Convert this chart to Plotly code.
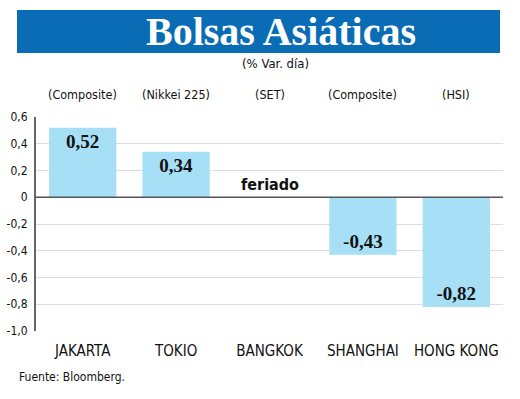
import plotly.graph_objects as go

categories = ["JAKARTA", "TOKIO", "BANGKOK", "SHANGHAI", "HONG KONG"]
indices = ["(Composite)", "(Nikkei 225)", "(SET)", "(Composite)", "(HSI)"]
values = [0.52, 0.34, None, -0.43, -0.82]
tick_vals = [0.6, 0.4, 0.2, 0.0, -0.2, -0.4, -0.6, -0.8, -1.0]
tick_text = ["0,6", "0,4", "0,2", "0", "-0,2", "-0,4", "-0,6", "-0,8", "-1,0"]
holiday_label = "feriado"
title = "Bolsas Asiáticas"
subtitle = "(% Var. día)"
source = "Fuente: Bloomberg."

NARROW = "DejaVu Sans Condensed, Liberation Sans Narrow, sans-serif"
SERIF = "Liberation Serif, DejaVu Serif, serif"

labels = ["" if v is None else f"{v:.2f}".replace(".", ",") for v in values]

fig = go.Figure(go.Bar(
    x=categories, y=values, text=labels,
    textposition="inside", insidetextanchor="end",
    textfont=dict(family=SERIF, size=19, color="#111111", weight="bold"),
    marker=dict(color="#a6dff6", line=dict(width=0)),
    width=0.72, cliponaxis=False, textangle=0,
))

L, R, T, B = 36, 17, 117, 68
W, H = 520, 399
pw, ph = W - L - R, H - T - B

def px(x):
    return (x - L) / pw

def py(y):
    return (H - B - y) / ph

shapes = [
    dict(type="rect", xref="paper", yref="paper", x0=px(17), x1=px(500), y0=py(53), y1=py(10),
         fillcolor="#0b6cb6", line=dict(width=0), layer="below"),
    dict(type="line", xref="paper", yref="y", x0=0, x1=1, y0=0, y1=0,
         line=dict(color="#555555", width=1.5)),
]

annotations = [
    dict(text=f"<b>{title}</b>", xref="paper", yref="paper", x=px(281), y=py(32),
         showarrow=False, font=dict(family=SERIF, size=40, color="white"),
         xanchor="center", yanchor="middle"),
    dict(text=subtitle, xref="paper", yref="paper", x=px(275), y=py(63),
         showarrow=False, font=dict(family=NARROW, size=13, color="#111111"),
         xanchor="center", yanchor="middle"),
    dict(text=source, xref="paper", yref="paper", x=px(17), y=py(377),
         showarrow=False, font=dict(family=NARROW, size=12, color="#111111"),
         xanchor="left", yanchor="middle"),
    dict(text=f"<b>{holiday_label}</b>", x=categories[2], y=0, yshift=1, showarrow=False,
         font=dict(family=NARROW, size=16, color="#111111"), xanchor="center", yanchor="bottom"),
]
for c, s in zip(categories, indices):
    annotations.append(dict(text=s, x=c, xref="x", yref="paper", y=py(94), showarrow=False,
                            font=dict(family=NARROW, size=12.5, color="#111111"),
                            xanchor="center", yanchor="middle"))

fig.update_layout(
    width=W, height=H,
    margin=dict(l=L, r=R, t=T, b=B, pad=0),
    paper_bgcolor="white", plot_bgcolor="white",
    showlegend=False,
    shapes=shapes, annotations=annotations,
    xaxis=dict(showgrid=False, showline=False, ticks="", automargin=False,
               tickfont=dict(family=NARROW, size=15, color="#111111"),
               ticklabelstandoff=9),
    yaxis=dict(range=[-1.0, 0.6], tickvals=tick_vals, ticktext=tick_text, automargin=False,
               showgrid=True, gridcolor="#dddddd", gridwidth=1,
               zeroline=False, showline=True, linecolor="#666666", linewidth=2,
               ticks="", tickfont=dict(family=NARROW, size=12, color="#111111"),
               ticklabelstandoff=4),
)

fig.write_html("out.html", config={"displayModeBar": False},
               post_script="document.body.style.margin='0';")
